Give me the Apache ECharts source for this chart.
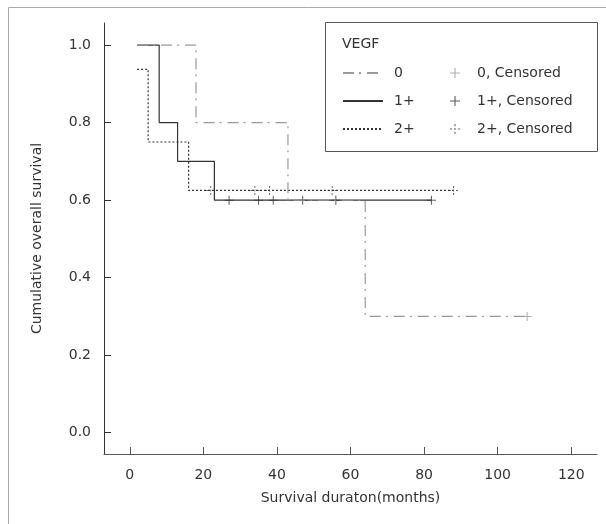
<!DOCTYPE html>
<html>
<head>
<meta charset="utf-8">
<script src="https://cdn.jsdelivr.net/npm/echarts@6/dist/echarts.min.js"></script>
<style>
  html, body { margin: 0; padding: 0; background: #fff; }
  #chart { width: 606px; height: 524px; }
</style>
</head>
<body>
<div id="chart"></div>
<script>
// axis ticks
var xTicks = [0, 20, 40, 60, 80, 100, 120];
var yTicks = [0, 0.2, 0.4, 0.6, 0.8, 1.0];

// KM step points (time, survival) per VEGF group
var timeV0 = [2, 18, 43, 64, 108];
var survV0 = [1.0, 0.8, 0.6, 0.3, 0.3];
var timeV1 = [2, 8, 13, 23, 82];
var survV1 = [1.0, 0.8, 0.7, 0.6, 0.6];
var timeV2 = [2, 5, 16, 88];
var survV2 = [0.9375, 0.75, 0.625, 0.625];

// censored observations
var censTimeV0 = [56, 108];
var censSurvV0 = [0.6, 0.3];
var censTimeV1 = [27, 35, 39, 47, 56, 82];
var censSurvV1 = [0.6, 0.6, 0.6, 0.6, 0.6, 0.6];
var censTimeV2 = [22, 34, 38, 55, 88];
var censSurvV2 = [0.625, 0.625, 0.625, 0.625, 0.625];

function pairs(xs, ys) {
  return xs.map(function (x, i) { return [x, ys[i]]; });
}

var FONT = "DejaVu Sans";
var plusPath = "path://M4,0h1v9h-1z M0,4h9v1h-9z";
// dotted plus for 2+ censor marks
var dotPlusPath = "path://M4,0h1v2h-1z M4,3.5h1v2h-1z M4,7h1v2h-1z M0,4h2v1h-2z M7,4h2v1h-2z";

var myChart = echarts.init(document.getElementById("chart"));
var option = {
  animation: false,
  textStyle: { fontFamily: FONT },
  grid: { left: 104, right: 9, top: 23, bottom: 70 },
  graphic: [
    {
      type: "rect",
      shape: { x: 8.5, y: 7.5, width: 700, height: 700 },
      style: { fill: "none", stroke: "#aaa", lineWidth: 1 },
      silent: true
    },
    {
      type: "rect",
      shape: { x: 325.5, y: 22.5, width: 272, height: 129 },
      style: { fill: "#fff", stroke: "#555", lineWidth: 1 },
      z: 5,
      silent: true
    },
    {
      type: "text",
      left: 342,
      top: 37,
      z: 6,
      style: { text: "VEGF", fill: "#333", font: "14px " + FONT }
    }
  ],
  legend: [
    {
      data: ["0", "1+", "2+"],
      orient: "vertical",
      left: 342,
      top: 66,
      padding: 0,
      itemWidth: 40,
      itemHeight: 14,
      itemGap: 14,
      selectedMode: false,
      z: 7,
      itemStyle: { opacity: 0 },
      textStyle: { color: "#333", fontSize: 14, fontFamily: FONT, padding: [0, 0, 0, 6] }
    },
    {
      data: ["0, Censored", "1+, Censored", "2+, Censored"],
      orient: "vertical",
      left: 450,
      top: 66,
      padding: 0,
      itemWidth: 10,
      itemHeight: 14,
      itemGap: 14,
      selectedMode: false,
      z: 7,
      textStyle: { color: "#333", fontSize: 14, fontFamily: FONT, padding: [0, 0, 0, 12] }
    }
  ],
  xAxis: {
    type: "value",
    min: -7,
    max: 127,
    name: "Survival duraton(months)",
    nameLocation: "middle",
    nameGap: 37,
    nameTextStyle: { color: "#333", fontSize: 14, fontFamily: FONT },
    axisLine: { onZero: false, lineStyle: { color: "#555", width: 1 } },
    axisTick: { inside: true, length: 7, customValues: xTicks, lineStyle: { color: "#555" } },
    axisLabel: { customValues: xTicks, margin: 14, color: "#333", fontSize: 14, fontFamily: FONT },
    splitLine: { show: false }
  },
  yAxis: {
    type: "value",
    min: -0.055,
    max: 1.057,
    name: "Cumulative overall survival",
    nameLocation: "middle",
    nameGap: 60,
    nameTextStyle: { color: "#333", fontSize: 14, fontFamily: FONT },
    axisLine: { show: true, onZero: false, lineStyle: { color: "#333", width: 1 } },
    axisTick: { inside: true, length: 7, customValues: yTicks, lineStyle: { color: "#333" } },
    axisLabel: {
      customValues: yTicks,
      margin: 13,
      color: "#333",
      fontSize: 14,
      fontFamily: FONT,
      formatter: function (v) { return v.toFixed(1); }
    },
    splitLine: { show: false }
  },
  series: [
    {
      name: "1+",
      type: "line",
      step: "end",
      symbol: "none",
      color: "#333",
      lineStyle: { color: "#333", width: 1.2, type: "solid" },
      data: pairs(timeV1, survV1)
    },
    {
      name: "2+",
      type: "line",
      step: "end",
      symbol: "none",
      color: "#333",
      lineStyle: { color: "#333", width: 1.2, type: [2, 2] },
      data: pairs(timeV2, survV2)
    },
    {
      name: "0",
      type: "line",
      step: "end",
      symbol: "none",
      color: "#999",
      lineStyle: { color: "#999", width: 1.2, type: [11, 5, 2, 6] },
      data: pairs(timeV0, survV0)
    },
    {
      name: "1+, Censored",
      type: "scatter",
      symbol: plusPath,
      symbolSize: 9,
      itemStyle: { color: "#333" },
      data: pairs(censTimeV1, censSurvV1)
    },
    {
      name: "2+, Censored",
      type: "scatter",
      symbol: dotPlusPath,
      symbolSize: 9,
      itemStyle: { color: "#444" },
      data: pairs(censTimeV2, censSurvV2)
    },
    {
      name: "0, Censored",
      type: "scatter",
      symbol: plusPath,
      symbolSize: 9,
      itemStyle: { color: "#999" },
      data: pairs(censTimeV0, censSurvV0)
    }
  ]
};
option && myChart.setOption(option, true);
</script>
</body>
</html>
